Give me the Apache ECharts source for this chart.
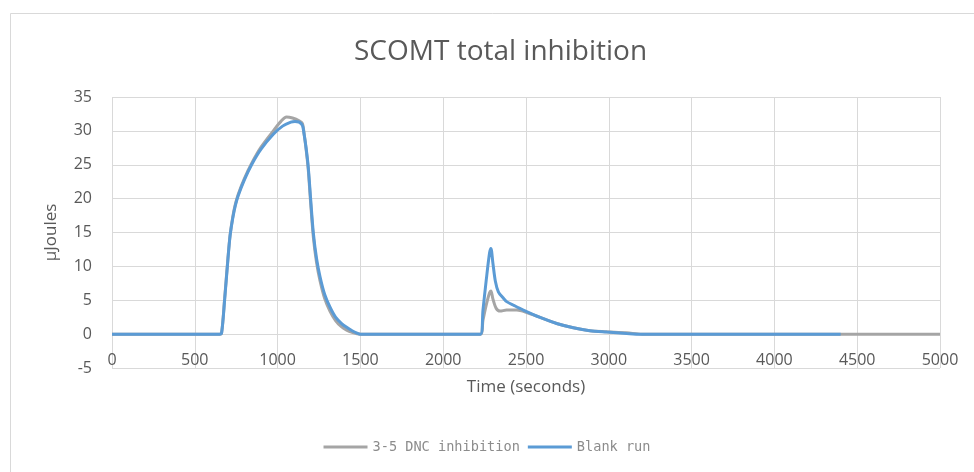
<!DOCTYPE html>
<html>
<head>
<meta charset="utf-8">
<script src="https://cdn.jsdelivr.net/npm/echarts@6/dist/echarts.min.js"></script>
<style>
html,body{margin:0;padding:0;background:#fff;}
#chart{width:974px;height:472px;}
</style>
</head>
<body>
<div id="chart"></div>
<script>
// ---- data ----
var seriesNames = ["3-5 DNC inhibition", "Blank run"];
var xTicks = [0, 500, 1000, 1500, 2000, 2500, 3000, 3500, 4000, 4500, 5000];
var yTicks = [-5, 0, 5, 10, 15, 20, 25, 30, 35];

var grayTime = [0, 650, 662, 680, 700, 713, 730, 745, 763, 800, 843, 900, 974, 1020, 1054, 1090, 1130, 1150, 1160, 1172, 1185, 1200, 1216, 1235, 1256, 1285, 1316, 1350, 1385, 1417, 1450, 1480, 1500,
  2225, 2240, 2260, 2280, 2288, 2300, 2320, 2343, 2383, 2444, 2504, 2585, 2685, 2786, 2886, 2987, 3108, 3200, 5000];
var grayVal = [0, 0, 0.2, 5.2, 11.2, 14.6, 17.4, 19.2, 20.7, 23, 25.2, 27.6, 30, 31.4, 32.05, 31.9, 31.5, 31.1, 29.6, 27.3, 24.3, 19.2, 14.3, 10.6, 7.9, 5.2, 3.4, 2.0, 1.1, 0.6, 0.25, 0.05, 0,
  0, 2, 4.3, 6.1, 6.35, 5.2, 3.8, 3.4, 3.55, 3.55, 3.2, 2.46, 1.57, 0.94, 0.5, 0.35, 0.2, 0, 0];

var blueTime = [0, 650, 662, 680, 700, 713, 730, 745, 763, 800, 843, 900, 974, 1030, 1080, 1105, 1130, 1150, 1160, 1172, 1185, 1200, 1216, 1235, 1256, 1285, 1316, 1350, 1385, 1417, 1450, 1480, 1500,
  2225, 2240, 2260, 2280, 2288, 2300, 2315, 2333, 2360, 2383, 2430, 2484, 2585, 2685, 2786, 2886, 2987, 3108, 3190, 4400];
var blueVal = [0, 0, 0.2, 5, 11, 14.5, 17.2, 19, 20.5, 22.8, 25, 27.3, 29.5, 30.7, 31.3, 31.4, 31.3, 30.8, 29.5, 27.5, 24.7, 19.8, 14.9, 11.2, 8.5, 5.8, 4.0, 2.5, 1.6, 1.0, 0.5, 0.15, 0,
  0, 3.5, 8, 12, 12.65, 10.5, 7.8, 6.25, 5.4, 4.8, 4.2, 3.55, 2.46, 1.57, 0.94, 0.5, 0.3, 0.1, 0, 0];

function pairs(t, v) { return t.map(function (x, i) { return [x, v[i]]; }); }

var chart = echarts.init(document.getElementById('chart'), null, {renderer: 'canvas'});
var txt = '#595959';
var font = '"Open Sans", "Noto Sans", sans-serif';
chart.setOption({
  animation: false,
  backgroundColor: '#ffffff',
  graphic: [{
    type: 'rect', left: 8, top: 11, silent: true,
    shape: {width: 1000, height: 500},
    style: {fill: 'none', stroke: '#d9d9d9', lineWidth: 1}
  }],
  title: {
    text: 'SCOMT total inhibition', left: 349, top: 33,
    textStyle: {color: txt, fontSize: 28, fontWeight: 'normal', fontFamily: font}
  },
  legend: {
    bottom: 13, left: 'center', itemWidth: 44, itemHeight: 3, itemGap: 8,
    icon: 'rect',
    textStyle: {color: '#8c8c8c', fontSize: 13.6, fontFamily: '"DejaVu Sans Mono", monospace'},
    data: seriesNames
  },
  grid: {left: 112, right: 34, top: 97, bottom: 104, containLabel: false},
  xAxis: {
    type: 'value', min: xTicks[0], max: xTicks[xTicks.length - 1], interval: 500,
    name: 'Time (seconds)', nameLocation: 'middle', nameGap: 11,
    nameTextStyle: {color: txt, fontSize: 17, fontFamily: font, verticalAlign: 'top'},
    axisLine: {show: false, onZero: false},
    axisTick: {show: false},
    axisLabel: {color: txt, fontSize: 16, fontFamily: font, margin: -16,
      formatter: function (v) { return String(v); }},
    splitLine: {show: true, lineStyle: {color: '#d9d9d9', width: 1}}
  },
  yAxis: {
    type: 'value', min: yTicks[0], max: yTicks[yTicks.length - 1], interval: 5,
    name: 'µJoules', nameLocation: 'middle', nameGap: 52, nameRotate: 90,
    nameTextStyle: {color: txt, fontSize: 17, fontFamily: font},
    axisLine: {show: false}, axisTick: {show: false},
    axisLabel: {color: txt, fontSize: 16, fontFamily: font, margin: 20},
    splitLine: {show: true, lineStyle: {color: '#d9d9d9', width: 1}}
  },
  series: [{
    name: seriesNames[0], type: 'line', showSymbol: false, smooth: 0.3,
    data: pairs(grayTime, grayVal),
    itemStyle: {color: '#a5a5a5'},
    lineStyle: {color: '#a5a5a5', width: 3}
  }, {
    name: seriesNames[1], type: 'line', showSymbol: false, smooth: 0.3,
    data: pairs(blueTime, blueVal),
    itemStyle: {color: '#5b9bd5'},
    lineStyle: {color: '#5b9bd5', width: 3}
  }]
});
</script>
</body>
</html>
